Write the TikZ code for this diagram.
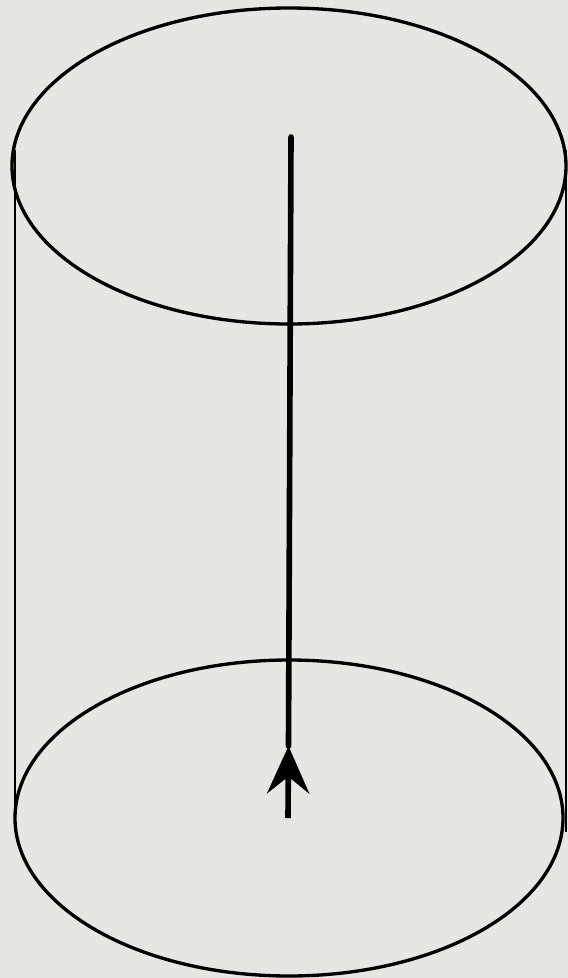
\documentclass[tikz,border=0pt]{standalone}
\usepackage{tikz}
\usetikzlibrary{arrows.meta}
\usepackage{xcolor}
\definecolor{paper}{RGB}{230,230,226}

\begin{document}
\begin{tikzpicture}[x=0.02cm,y=-0.02cm]
  \tikzset{rim/.style={draw=black,line width=1.9pt}}
  \tikzset{side/.style={draw=black,line width=1.3pt}}
  \tikzset{axisline/.style={draw=black,line width=3.2pt}}
  \tikzset{axistip/.style={-{Stealth[length=27pt,width=24pt,inset=9.6pt]}}}
  \fill[paper] (0,0) rectangle (568,978);
  \useasboundingbox (0,0) rectangle (568,978);
  \coordinate (c0) at (289,166);
  \coordinate (c1) at (289,818);
  \coordinate (l0) at (15,150);
  \coordinate (l1) at (15,822);
  \coordinate (r0) at (566,150);
  \coordinate (r1) at (566,832);
  \coordinate (a0) at (288,818);
  \coordinate (a1) at (288.5,746);
  \coordinate (a2) at (291,137);
  \draw[side] (l0) -- (l1);
  \draw[side] (r0) -- (r1);
  \draw[rim] (c0) ellipse [x radius=277,y radius=158];
  \draw[rim] (c1) ellipse [x radius=274,y radius=158];
  \draw[axisline,axistip] (a0) -- (a1);
  \draw[axisline,line cap=round] (a1) -- (a2);
\end{tikzpicture}
\end{document}
